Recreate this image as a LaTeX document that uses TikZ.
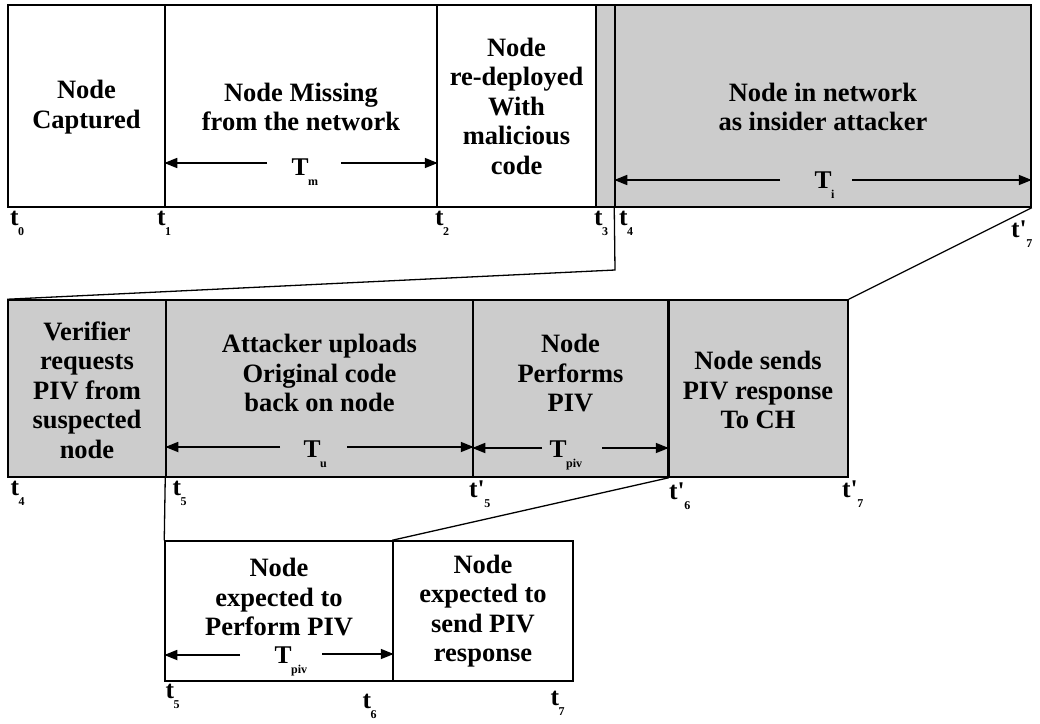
\documentclass[tikz,border=0pt]{standalone}
\usepackage{fontspec}
\setmainfont{Liberation Serif}[Ligatures=TeXOff]
\usetikzlibrary{arrows.meta}

% lowered small subscript used for the time marks
\newcommand{\lowsub}[1]{\kern-0.5pt\raisebox{-10pt}{\fontsize{12}{12}\selectfont #1}}

\begin{document}
\begin{tikzpicture}[x=1pt,y=-1pt,
  box/.style={draw,line width=1.5pt,inner sep=0pt,minimum height=#1},
  shade/.style={fill=gray!40},
  txt/.style={align=center,font=\fontsize{26.5}{29.5}\selectfont\bfseries,inner sep=0pt},
  tick/.style={anchor=base west,font=\fontsize{25.5}{25.5}\selectfont\bfseries,inner sep=0pt},
  dimarrow/.style={line width=1.7pt,-{Triangle[length=13pt,width=10pt]}},
  link/.style={line width=1.3pt}]

\useasboundingbox (0,0) rectangle (1040,723);

% ---- first row: life of the captured node
\node[box=202pt,minimum width=157pt] (cap) at (86.5,106) {};
\node[box=202pt,minimum width=272pt] (miss) at (301,106) {};
\node[box=202pt,minimum width=159pt] (redep) at (516.5,106) {};
\node[box=202pt,minimum width=19pt,shade] (gap) at (605.5,106) {};
\node[box=202pt,minimum width=416pt,shade] (insider) at (823,106) {};

\node[txt] (capt) at (86.5,107) {Node\\Captured};
\node[txt] (misst) at (301,107) {Node Missing\\from the network};
\node[txt] (redept) at (516.5,106) {Node\\re-deployed\\With\\malicious\\code};
\node[txt] (insidert) at (823,107) {Node in network\\as insider attacker};

\node[tick] (tm) at (291.5,175) {T\lowsub{m}};
\draw[dimarrow] (267,163) -- (267,163 -| miss.west);
\draw[dimarrow] (341,163) -- (341,163 -| miss.east);
\node[tick] (ti) at (814.5,188) {T\lowsub{i}};
\draw[dimarrow] (780,180) -- (780,180 -| insider.west);
\draw[dimarrow] (852,180) -- (852,180 -| insider.east);

\node[tick] (t0) at (10,225) {t\lowsub{0}};
\node[tick] (t1) at (157,225) {t\lowsub{1}};
\node[tick] (t2) at (435,225) {t\lowsub{2}};
\node[tick] (t3) at (594,225) {t\lowsub{3}};
\node[tick] (t4) at (619,225) {t\lowsub{4}};
\node[tick] (t7a) at (1011,237) {t'\lowsub{7}};

% ---- second row: zoom on the insider period
\node[box=177pt,minimum width=158pt,shade] (verif) at (87,388.5) {};
\node[box=177pt,minimum width=307pt,shade] (upload) at (319.5,388.5) {};
\node[box=177pt,minimum width=195pt,shade] (perf) at (570.5,388.5) {};
\node[box=177pt,minimum width=180pt,shade] (sends) at (758,388.5) {};
\draw[line width=3pt] (perf.north east) -- (perf.south east);

\node[txt] (veriftx) at (87,390) {Verifier\\requests\\PIV from\\suspected\\node};
\node[txt] (uploadt) at (319.5,373) {Attacker uploads\\Original code\\back on node};
\node[txt] (perft) at (570.5,373) {Node\\Performs\\PIV};
\node[txt] (sendst) at (758,390) {Node sends\\PIV response\\To CH};

\node[tick] (tu) at (303.5,457) {T\lowsub{u}};
\draw[dimarrow] (280,447) -- (280,447 -| upload.west);
\draw[dimarrow] (347,447) -- (347,447 -| upload.east);
\node[tick] (tp1) at (549.5,457) {T\lowsub{piv}};
\draw[dimarrow] (542,448) -- (542,448 -| perf.west);
\draw[dimarrow] (602,448) -- (602,448 -| perf.east);

\node[tick] (t4b) at (10.5,495) {t\lowsub{4}};
\node[tick] (t5b) at (172.5,495) {t\lowsub{5}};
\node[tick] (t5p) at (469,497) {t'\lowsub{5}};
\node[tick] (t6p) at (669,499) {t'\lowsub{6}};
\node[tick] (t7p) at (842,497) {t'\lowsub{7}};

% ---- third row: expected behaviour of an honest node
\node[box=140pt,minimum width=228pt] (expperf) at (279,611) {};
\node[box=140pt,minimum width=180pt] (expsend) at (483,611) {};

\node[txt] (expperft) at (279,597) {Node\\expected to\\Perform PIV};
\node[txt] (expsendt) at (483,611) {Node\\expected to\\send PIV\\response};

\node[tick] (tp2) at (274.5,663) {T\lowsub{piv}};
\draw[dimarrow] (240,655) -- (240,655 -| expperf.west);
\draw[dimarrow] (322,654) -- (322,654 -| expperf.east);

\node[tick] (t5c) at (165.5,698) {t\lowsub{5}};
\node[tick] (t6c) at (362.5,708) {t\lowsub{6}};
\node[tick] (t7c) at (550.5,705) {t\lowsub{7}};

% ---- zoom connectors between the rows
\coordinate (k4) at (615,270);
\draw[link] (insider.south west) -- (k4) -- (verif.north west);
\draw[link] (insider.south east) -- (sends.north east);
\draw[link] (upload.south west) -- (expperf.north west);
\draw[link] (perf.south east) -- (expsend.north west);

\end{tikzpicture}
\end{document}
